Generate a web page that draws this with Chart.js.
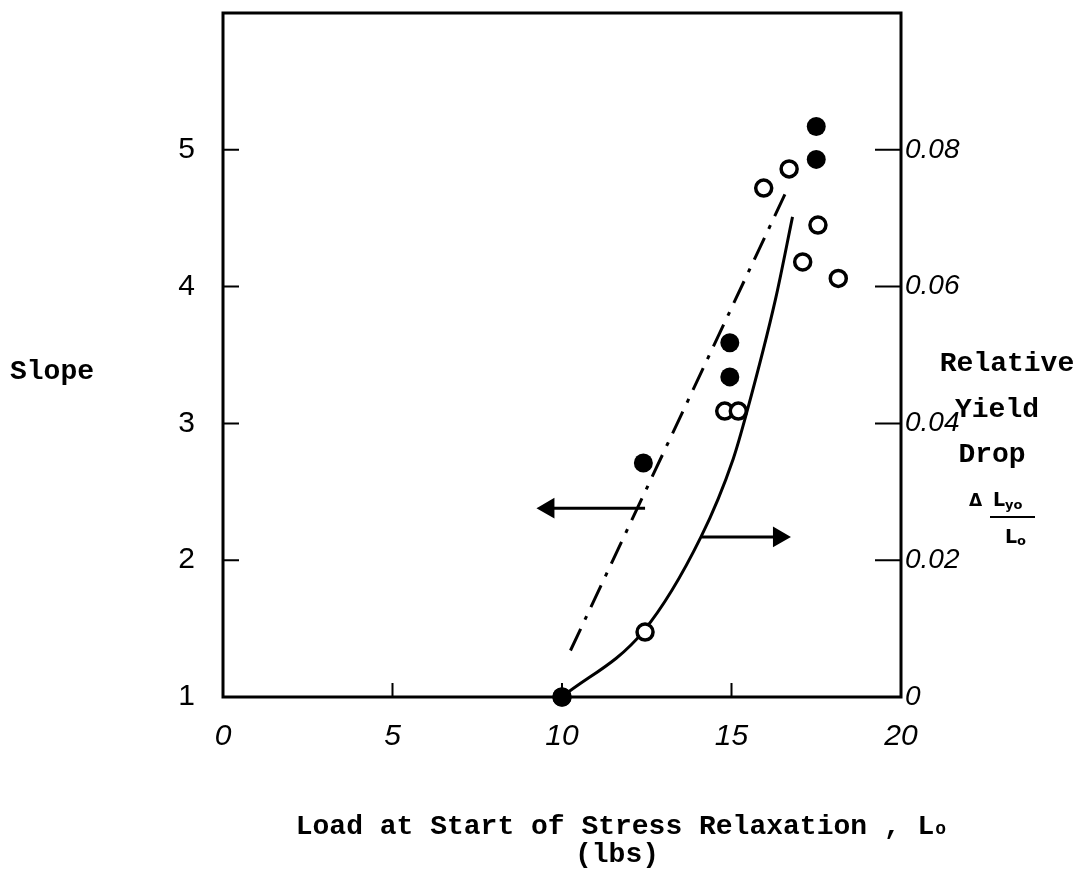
<!DOCTYPE html>
<html lang="en">
<head>
  <meta charset="UTF-8">
  <title>Slope and Relative Yield Drop vs Load</title>
  <script src="https://cdn.jsdelivr.net/npm/chart.js"></script>
  <style>
    html, body { margin: 0; padding: 0; background: white; }
    #wrap { width: 1085px; height: 887px; }
  </style>
</head>
<body>
  <div id="wrap"><canvas id="chart" width="1085" height="887"></canvas></div>

  <script type="text/javascript">
    // tick labels
    const xTicks = [0, 5, 10, 15, 20];
    const slopeTicks = [1, 2, 3, 4, 5];
    const dropTicks = [0, 0.02, 0.04, 0.06, 0.08];

    // filled circles - slope (left axis)
    const slopeX = [10.0, 12.4, 14.95, 14.95, 17.5, 17.5];
    const slopeY = [1.0, 2.71, 3.59, 3.34, 5.17, 4.93];

    // open circles - relative yield drop (right axis)
    const dropX = [10.0, 12.45, 14.8, 15.2, 15.95, 16.7, 17.55, 17.1, 18.15];
    const dropY = [0, 0.0095, 0.0418, 0.0418, 0.0744, 0.0772, 0.069, 0.0636, 0.0612];

    // dash-dot line for slope
    const slopeLineX = [10.25, 16.7];
    const slopeLineY = [1.34, 4.74];

    // solid curve for yield drop
    const dropCurveX = [10.0, 12.4, 14.1, 15.05, 15.45, 16.3, 16.8];
    const dropCurveY = [0, 0.0096, 0.0234, 0.0348, 0.0416, 0.0582, 0.0702];

    // arrows telling which axis belongs to which curve
    const leftArrowX = [12.45, 9.6];
    const leftArrowY = [2.38, 2.38];
    const rightArrowX = [14.13, 16.4];
    const rightArrowY = [0.0234, 0.0234];

    const pts = (xs, ys) => xs.map((x, i) => ({ x: x, y: ys[i] }));

    const handFont = { family: '"Liberation Sans", sans-serif', size: 30 };
    const typeFont = '"Liberation Mono", monospace';

    const framePlugin = {
      id: 'frame',
      beforeDatasetsDraw(chart) {
        const ctx = chart.ctx;
        const a = chart.chartArea;
        const sx = chart.scales.x, sy = chart.scales.y, sy1 = chart.scales.y1;
        ctx.save();
        ctx.strokeStyle = '#000';
        ctx.lineWidth = 3;
        ctx.strokeRect(a.left, a.top, a.right - a.left, a.bottom - a.top);
        ctx.lineWidth = 2;
        ctx.beginPath();
        xTicks.forEach(v => {
          const p = sx.getPixelForValue(v);
          ctx.moveTo(p, a.bottom);
          ctx.lineTo(p, a.bottom - 14);
        });
        slopeTicks.forEach(v => {
          const p = sy.getPixelForValue(v);
          ctx.moveTo(a.left, p);
          ctx.lineTo(a.left + 16, p);
        });
        dropTicks.forEach(v => {
          const p = sy1.getPixelForValue(v);
          ctx.moveTo(a.right, p);
          ctx.lineTo(a.right - 26, p);
        });
        ctx.stroke();
        ctx.restore();
      },
      afterDraw(chart) {
        const ctx = chart.ctx;
        ctx.save();
        ctx.fillStyle = '#000';
        ctx.textBaseline = 'alphabetic';

        // x axis title
        ctx.font = 'bold 28px ' + typeFont;
        const t1 = 'Load at Start of Stress Relaxation , L';
        const w1 = ctx.measureText(t1).width;
        const x1 = 615 - w1 / 2;
        ctx.textAlign = 'left';
        ctx.fillText(t1, x1, 834);
        ctx.font = 'bold 18px ' + typeFont;
        ctx.fillText('o', x1 + w1 + 1, 834);
        ctx.font = 'bold 28px ' + typeFont;
        ctx.textAlign = 'center';
        ctx.fillText('(lbs)', 617, 862);

        // left title
        ctx.textAlign = 'left';
        ctx.fillText('Slope', 10, 379);

        // right title
        ctx.textAlign = 'center';
        ctx.fillText('Relative', 1007, 371);
        ctx.fillText('Yield', 997, 417);
        ctx.fillText('Drop', 992, 462);

        // fraction  Delta L_yo / L_o
        ctx.font = 'bold 17px "DejaVu Sans", sans-serif';
        ctx.textAlign = 'left';
        ctx.fillText('\u0394', 969, 506);
        ctx.font = 'bold 19px "DejaVu Sans", sans-serif';
        ctx.fillText('L', 993, 506);
        ctx.font = 'bold 13px "DejaVu Sans", sans-serif';
        ctx.fillText('yo', 1005, 509);
        ctx.font = 'bold 19px "DejaVu Sans", sans-serif';
        ctx.fillText('L', 1005, 543);
        ctx.font = 'bold 13px "DejaVu Sans", sans-serif';
        ctx.fillText('o', 1017, 545);
        ctx.lineWidth = 2;
        ctx.beginPath();
        ctx.moveTo(990, 517);
        ctx.lineTo(1035, 517);
        ctx.stroke();
        ctx.restore();
      }
    };

    const ctx = document.getElementById('chart').getContext('2d');
    window.mainChart = new Chart(ctx, {
      type: 'scatter',
      data: {
        datasets: [
          {
            label: 'Slope',
            data: pts(slopeX, slopeY),
            yAxisID: 'y',
            pointRadius: 9.5,
            pointBackgroundColor: '#000',
            pointBorderColor: '#000',
            pointBorderWidth: 0,
            clip: false
          },
          {
            label: 'Relative Yield Drop',
            data: pts(dropX, dropY),
            yAxisID: 'y1',
            pointRadius: 8,
            pointBackgroundColor: '#fff',
            pointBorderColor: '#000',
            pointBorderWidth: 3.5,
            clip: false
          },
          {
            type: 'line',
            label: 'left arrow',
            data: pts(leftArrowX, leftArrowY),
            yAxisID: 'y',
            borderColor: '#000',
            borderWidth: 3,
            pointRadius: [0, 9],
            pointStyle: 'triangle',
            pointRotation: [0, -90],
            pointBackgroundColor: '#000',
            pointBorderColor: '#000',
            clip: false
          },
          {
            type: 'line',
            label: 'right arrow',
            data: pts(rightArrowX, rightArrowY),
            yAxisID: 'y1',
            borderColor: '#000',
            borderWidth: 3,
            pointRadius: [0, 9],
            pointStyle: 'triangle',
            pointRotation: [0, 90],
            pointBackgroundColor: '#000',
            pointBorderColor: '#000',
            clip: false
          },
          {
            type: 'line',
            label: 'slope fit',
            data: pts(slopeLineX, slopeLineY),
            yAxisID: 'y',
            borderColor: '#000',
            borderWidth: 3,
            borderDash: [24, 10, 4, 10],
            pointRadius: 0,
            clip: false
          },
          {
            type: 'line',
            label: 'drop fit',
            data: pts(dropCurveX, dropCurveY),
            yAxisID: 'y1',
            borderColor: '#000',
            borderWidth: 3,
            cubicInterpolationMode: 'monotone',
            pointRadius: 0,
            clip: false
          }
        ]
      },
      options: {
        responsive: false,
        animation: false,
        layout: { padding: { top: 13, left: 0, right: 0, bottom: 0 } },
        plugins: {
          legend: { display: false },
          tooltip: { enabled: false }
        },
        scales: {
          x: {
            type: 'linear',
            position: 'bottom',
            min: 0,
            max: 20,
            afterBuildTicks: s => { s.ticks = xTicks.map(v => ({ value: v })); },
            afterFit: s => { s.height = 190; s.paddingLeft = 0; s.paddingRight = 0; },
            grid: { display: false, drawTicks: false },
            border: { display: false },
            ticks: {
              color: '#000',
              font: { family: handFont.family, size: 30, style: 'italic' },
              padding: 22,
              maxRotation: 0,
              autoSkip: false
            }
          },
          y: {
            type: 'linear',
            position: 'left',
            min: 1,
            max: 6,
            afterBuildTicks: s => { s.ticks = slopeTicks.map(v => ({ value: v })); },
            afterFit: s => { s.width = 223; s.paddingTop = 0; s.paddingBottom = 0; },
            grid: { display: false, drawTicks: false },
            border: { display: false },
            ticks: {
              color: '#000',
              font: handFont,
              padding: 28,
              autoSkip: false
            }
          },
          y1: {
            type: 'linear',
            position: 'right',
            min: 0,
            max: 0.1,
            afterBuildTicks: s => { s.ticks = dropTicks.map(v => ({ value: v })); },
            afterFit: s => { s.width = 184; s.paddingTop = 0; s.paddingBottom = 0; },
            grid: { display: false, drawTicks: false },
            border: { display: false },
            ticks: {
              color: '#000',
              font: { family: handFont.family, size: 28, style: 'italic' },
              padding: 4,
              autoSkip: false,
              callback: v => (v === 0 ? '0' : v.toFixed(2))
            }
          }
        }
      },
      plugins: [framePlugin]
    });
  </script>
</body>
</html>
